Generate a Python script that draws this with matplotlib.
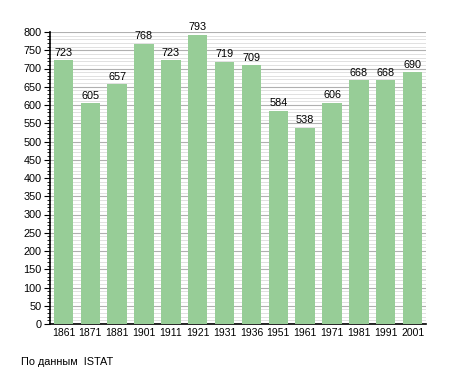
import numpy as np
import matplotlib.pyplot as plt

years = ['1861', '1871', '1881', '1901', '1911', '1921', '1931', '1936',
         '1951', '1961', '1971', '1981', '1991', '2001']
population = [723, 605, 657, 768, 723, 793, 719, 709, 584, 538, 606, 668, 668, 690]

plt.rcParams['font.family'] = ['Liberation Sans', 'DejaVu Sans']

fig = plt.figure(figsize=(4.55, 3.73), dpi=100)
ax = fig.add_axes([50 / 455, 49 / 373, 376 / 455, 292 / 373])

x = np.arange(len(years))
ax.bar(x, population, width=0.72, color='#97cd97', zorder=3)
for xi, v in zip(x, population):
    ax.text(xi, v + 7, str(v), ha='center', va='bottom', fontsize=7.8, zorder=4)

ax.set_xlim(-0.5, len(years) - 0.5)
ax.set_ylim(0, 800)
ax.set_xticks(x)
ax.set_xticklabels(years)
ax.set_yticks(np.arange(0, 801, 50))
ax.set_yticks(np.arange(0, 801, 10), minor=True)
ax.grid(axis='y', which='major', color='#b0b0b0', linewidth=0.8, zorder=0)
ax.grid(axis='y', which='minor', color='#dcdcdc', linewidth=0.6, zorder=0)

for s in ['top', 'right']:
    ax.spines[s].set_visible(False)
ax.spines['left'].set_linewidth(1.2)
ax.spines['bottom'].set_linewidth(1.2)
ax.tick_params(axis='x', length=0, labelsize=7.5, pad=3)
ax.tick_params(axis='y', which='major', length=4, labelsize=7.8, pad=2)
ax.tick_params(axis='y', which='minor', length=2)

fig.text(21 / 455, 1 - 362 / 373, 'По данным  ISTAT', fontsize=7.8, va='center')

fig.savefig('out.png', dpi=100)
